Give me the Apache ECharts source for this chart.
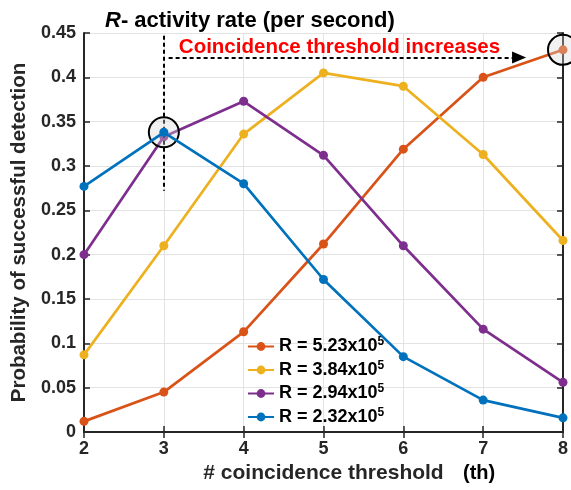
<!DOCTYPE html>
<html><head><meta charset="utf-8">
<script src="https://cdn.jsdelivr.net/npm/echarts@6/dist/echarts.min.js"></script>
<style>html,body{margin:0;padding:0;background:#fff}#c{width:571px;height:490px}</style>
</head><body><div id="c"></div>
<script>
const thresholds = [2, 3, 4, 5, 6, 7, 8];
const seriesNames = ['5.23', '3.84', '2.94', '2.32'];
const r523 = [0.012, 0.045, 0.113, 0.212, 0.319, 0.400, 0.431];
const r384 = [0.087, 0.210, 0.336, 0.405, 0.390, 0.313, 0.216];
const r294 = [0.200, 0.333, 0.373, 0.312, 0.210, 0.116, 0.056];
const r232 = [0.277, 0.338, 0.280, 0.172, 0.085, 0.036, 0.016];
const yTicks = [0, 0.05, 0.1, 0.15, 0.2, 0.25, 0.3, 0.35, 0.4, 0.45];
const colors = ['#D95319', '#EDB120', '#7E2F8E', '#0072BD'];
const FONT = '"Liberation Sans", Arial, sans-serif';

const allData = [r523, r384, r294, r232];
const chart = echarts.init(document.getElementById('c'));

function mk(i) {
  return {
    name: seriesNames[i],
    type: 'line',
    data: thresholds.map((t, k) => [t, allData[i][k]]),
    symbol: 'circle',
    symbolSize: 9,
    lineStyle: { width: 2.7, color: colors[i] },
    itemStyle: { color: colors[i] },
    z: 2 + i
  };
}
const series = [0, 1, 2, 3].map(mk);
series[3].markLine = {
  silent: true, symbol: 'none', animation: false,
  lineStyle: { color: '#000', type: [4, 3], width: 2 },
  label: { show: false },
  data: [[{ coord: [3, 0.447] }, { coord: [3, 0.272] }]]
};
series[0].markLine = {
  silent: true, symbol: ['none', 'triangle'], symbolSize: [12, 14], animation: false,
  lineStyle: { color: '#000', type: [4, 3], width: 2 },
  label: { show: false },
  data: [[{ coord: [3.06, 0.4225] }, { coord: [7.45, 0.4225] }]]
};
const circleStyle = { color: 'rgba(215,215,215,0.35)', borderColor: '#000', borderWidth: 2 };
series[3].markPoint = {
  silent: true, animation: false, symbol: 'circle', symbolSize: 30,
  itemStyle: circleStyle, label: { show: false },
  data: [{ coord: [3, 0.338] }]
};
series[0].markPoint = {
  silent: true, animation: false, symbol: 'circle', symbolSize: 30,
  itemStyle: circleStyle, label: { show: false },
  data: [{ coord: [8, 0.431] }]
};
series[1].markPoint = {
  silent: true, animation: false, symbol: 'rect', symbolSize: 1,
  itemStyle: { color: 'rgba(0,0,0,0)' },
  label: { show: true, position: 'inside', formatter: 'Coincidence threshold increases',
    color: '#FF0000', fontWeight: 'bold', fontSize: 20.5, fontFamily: FONT },
  data: [{ coord: [5.2, 0.434] }]
};

const axisCommonLabel = { color: '#262626', fontWeight: 'bold', fontSize: 18, fontFamily: FONT };

chart.setOption({
  animation: false,
  color: colors,
  title: {
    text: '{i|R}{b|- activity rate (per second)}',
    left: 100, top: 5,
    textStyle: {
      rich: {
        i: { fontStyle: 'italic', fontWeight: 'bold', fontSize: 22, fontFamily: FONT, color: '#000' },
        b: { fontWeight: 'bold', fontSize: 22, fontFamily: FONT, color: '#000' }
      }
    }
  },
  grid: { left: 84, right: 6, top: 33, bottom: 58, containLabel: false },
  legend: {
    orient: 'vertical', left: 242, top: 331, itemGap: 4,
    itemWidth: 26, itemHeight: 11,
    data: seriesNames,
    formatter: n => 'R = ' + n + 'x10{s|5}',
    textStyle: {
      color: '#000', fontWeight: 'bold', fontSize: 18, fontFamily: FONT,
      rich: { s: { fontSize: 12, fontWeight: 'bold', fontFamily: FONT, color: '#000', verticalAlign: 'top', padding: [0, 0, 9, 0] } }
    }
  },
  xAxis: [{
    type: 'value', min: 2, max: 8, interval: 1,
    name: '# coincidence threshold', nameLocation: 'middle', nameGap: 29,
    nameTextStyle: { color: '#262626', fontWeight: 'bold', fontSize: 21, fontFamily: FONT },
    axisLine: { lineStyle: { color: '#262626', width: 2 } },
    axisTick: { inside: true, length: 6, lineStyle: { color: '#262626', width: 1.5 } },
    axisLabel: Object.assign({ margin: 8 }, axisCommonLabel),
    splitLine: { show: true, lineStyle: { color: '#e3e3e3', width: 1 } }
  }, {
    type: 'value', min: 2, max: 8, interval: 1, position: 'top',
    axisLine: { lineStyle: { color: '#262626', width: 2 } },
    axisTick: { inside: true, length: 6, lineStyle: { color: '#262626', width: 1.5 } },
    axisLabel: { show: false }, splitLine: { show: false }
  }],
  yAxis: [{
    type: 'value', min: 0, max: 0.45, interval: 0.05,
    name: 'Probability of successful detection', nameLocation: 'middle', nameGap: 50,
    nameTextStyle: { color: '#262626', fontWeight: 'bold', fontSize: 20.5, fontFamily: FONT },
    axisLine: { show: true, lineStyle: { color: '#262626', width: 2 } },
    axisTick: { show: true, inside: true, length: 6, lineStyle: { color: '#262626', width: 1.5 } },
    axisLabel: Object.assign({ margin: 8, formatter: v => {
      const t = yTicks.find(y => Math.abs(y - v) < 1e-9);
      return t === undefined ? '' : String(+t.toFixed(2));
    } }, axisCommonLabel),
    splitLine: { show: true, lineStyle: { color: '#e3e3e3', width: 1 } }
  }, {
    type: 'value', min: 0, max: 0.45, interval: 0.05, position: 'right',
    axisLine: { show: true, lineStyle: { color: '#262626', width: 2 } },
    axisTick: { show: true, inside: true, length: 6, lineStyle: { color: '#262626', width: 1.5 } },
    axisLabel: { show: false }, splitLine: { show: false }
  }],
  graphic: [{
    type: 'text', left: 463, top: 463,
    style: { text: '(th)', fill: '#000', font: 'bold 20px ' + FONT }
  }],
  series: series
});
</script></body></html>
